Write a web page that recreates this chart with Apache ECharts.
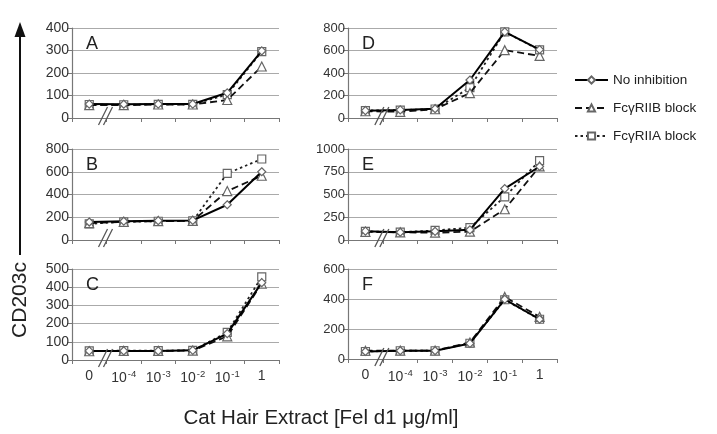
<!DOCTYPE html>
<html><head><meta charset="utf-8">
<script src="https://cdn.jsdelivr.net/npm/echarts@6/dist/echarts.min.js"></script>
<style>html,body{margin:0;padding:0;background:#fff}#c{width:717px;height:434px}</style>
</head><body><div id="c"></div>
<script>
// ---- data ----
const categories = ['0', '10^-4', '10^-3', '10^-2', '10^-1', '1'];
const seriesNames = ['No inhibition', 'FcγRIIB block', 'FcγRIIA block'];
const panelLetters = ['A', 'B', 'C', 'D', 'E', 'F'];
const yMax = [400, 800, 500, 800, 1000, 600];
const yInterval = [100, 200, 100, 200, 250, 200];

const A_noInh = [62, 61, 62, 62, 112, 298];
const A_riib  = [57, 57, 60, 60, 80, 229];
const A_riia  = [60, 59, 61, 61, 104, 295];

const B_noInh = [158, 165, 170, 172, 310, 600];
const B_riib  = [148, 160, 166, 168, 430, 565];
const B_riia  = [142, 160, 165, 168, 585, 712];

const C_noInh = [50, 50, 50, 53, 145, 425];
const C_riib  = [48, 50, 50, 52, 130, 420];
const C_riia  = [50, 51, 51, 53, 152, 457];

const D_noInh = [65, 72, 82, 338, 765, 608];
const D_riib  = [60, 55, 78, 222, 603, 552];
const D_riia  = [66, 70, 80, 270, 765, 605];

const E_noInh = [97, 85, 95, 112, 565, 808];
const E_riib  = [90, 84, 80, 92, 338, 808];
const E_riia  = [95, 86, 105, 135, 475, 872];

const F_noInh = [50, 55, 55, 104, 398, 265];
const F_riib  = [55, 56, 56, 110, 414, 281];
const F_riia  = [50, 55, 55, 105, 395, 265];

const panelData = [
  [A_noInh, A_riib, A_riia],
  [B_noInh, B_riib, B_riia],
  [C_noInh, C_riib, C_riia],
  [D_noInh, D_riib, D_riia],
  [E_noInh, E_riib, E_riia],
  [F_noInh, F_riib, F_riia]
];

// ---- layout / style ----
const gridBoxes = [
  {left: 72, top: 28, width: 207, height: 90},
  {left: 72, top: 149, width: 207, height: 91},
  {left: 72, top: 269, width: 207, height: 91},
  {left: 348, top: 28, width: 209, height: 90},
  {left: 348, top: 149, width: 209, height: 91},
  {left: 348, top: 269, width: 209, height: 90}
];
const showXLabels = [false, false, true, false, false, true];
const FONT = 'Liberation Sans, Arial, sans-serif';

const seriesStyle = [
  {symbol: 'diamond', symbolSize: 8, line: {color: '#000', width: 2, type: 'solid'}, z: 5},
  {symbol: 'triangle', symbolSize: 9, line: {color: '#111', width: 1.8, type: [7, 4]}, z: 4},
  {symbol: 'rect', symbolSize: 8, line: {color: '#222', width: 1.8, type: [2.5, 3]}, z: 3}
];

const chart = echarts.init(document.getElementById('c'), null, {renderer: 'canvas'});

const grid = [], xAxis = [], yAxis = [], series = [], title = [];
gridBoxes.forEach((g, i) => {
  grid.push(Object.assign({containLabel: false}, g));
  xAxis.push({
    type: 'category', gridIndex: i, data: categories, boundaryGap: true,
    axisLine: {show: true, lineStyle: {color: '#777', width: 1.2}},
    axisTick: {show: true, length: 4, lineStyle: {color: '#777'}},
    axisLabel: {
      show: showXLabels[i], interval: 0, hideOverlap: false, margin: 9,
      color: '#333', fontFamily: FONT, fontSize: 14,
      formatter: v => v.indexOf('^') >= 0 ? '10{s|' + v.split('^')[1] + '}' : v,
      rich: {s: {fontSize: 9.5, fontFamily: FONT, color: '#333', verticalAlign: 'bottom', padding: [0, 0, 9, 1]}}
    },
    splitLine: {show: false}
  });
  yAxis.push({
    type: 'value', gridIndex: i, min: 0, max: yMax[i], interval: yInterval[i],
    axisLine: {show: true, lineStyle: {color: '#777', width: 1.2}},
    axisTick: {show: true, length: 5, lineStyle: {color: '#777'}},
    axisLabel: {margin: 3, color: '#333', fontFamily: FONT, fontSize: i < 3 ? 14 : 13,
      formatter: v => String(v)},
    splitLine: {show: true, lineStyle: {color: '#aaa', width: 1}}
  });
  title.push({
    text: panelLetters[i], left: g.left + 9, top: g.top + 2,
    textStyle: {fontFamily: FONT, fontSize: 18, fontWeight: 'normal', color: '#222'}
  });
  [2, 1, 0].forEach(k => {
    const st = seriesStyle[k];
    series.push({
      name: seriesNames[k], type: 'line', xAxisIndex: i, yAxisIndex: i,
      data: panelData[i][k], symbol: st.symbol, symbolSize: st.symbolSize,
      showAllSymbol: true, z: st.z,
      lineStyle: st.line,
      itemStyle: {color: '#fff', borderColor: '#666', borderWidth: 1.2},
      emphasis: {disabled: true}, animation: false
    });
  });
});

chart.setOption({
  animation: false,
  backgroundColor: '#fff',
  title: title,
  grid: grid, xAxis: xAxis, yAxis: yAxis, series: series,
  legend: {
    data: seriesNames, orient: 'vertical', left: 569, top: 68,
    itemWidth: 33, itemHeight: 9, itemGap: 14,
    textStyle: {fontFamily: FONT, fontSize: 13.5, color: '#222'}
  },
  graphic: [
    {type: 'line', shape: {x1: 20, y1: 255, x2: 20, y2: 34}, style: {stroke: '#111', lineWidth: 2}},
    {type: 'polygon', shape: {points: [[20, 22], [14.5, 37], [25.5, 37]]}, style: {fill: '#111'}},
    {type: 'text', x: 20, y: 300, rotation: Math.PI / 2,
      style: {text: 'CD203c', fontFamily: FONT, fontSize: 21, fill: '#222', align: 'center', verticalAlign: 'middle'}},
    {type: 'text', x: 321, y: 418,
      style: {text: 'Cat Hair Extract [Fel d1 μg/ml]', fontFamily: FONT, fontSize: 20.5, fill: '#222', align: 'center', verticalAlign: 'middle'}}
  ]
});

// axis-break marks "//" between the first two categories
const breaks = [];
gridBoxes.forEach((g, i) => {
  const x0 = chart.convertToPixel({xAxisIndex: i}, 0);
  const x1 = chart.convertToPixel({xAxisIndex: i}, 1);
  const y0 = chart.convertToPixel({yAxisIndex: i}, 0);
  const bx = (x0 + x1) / 2 - 3;
  [0, 5].forEach(off => {
    breaks.push({type: 'line', z: 100,
      shape: {x1: bx - 5 + off, y1: y0 + 7, x2: bx + 4 + off, y2: y0 - 11},
      style: {stroke: '#555', lineWidth: 1.3}});
  });
});
const opt = chart.getOption();
chart.setOption({graphic: opt.graphic[0].elements.concat(breaks)}, {replaceMerge: []});
</script>
</body></html>
